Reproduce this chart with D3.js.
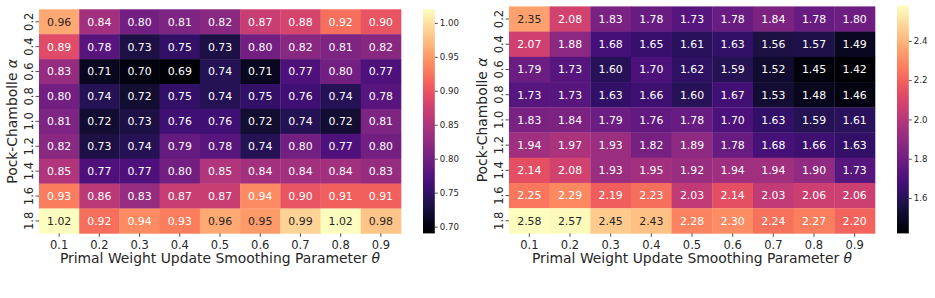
<!DOCTYPE html>
<html>
<head>
<meta charset="utf-8">
<script src="https://cdn.jsdelivr.net/npm/d3@7"></script>
<style>
    body { margin: 0; background: #fff; }
    svg { display: block; font-family: "DejaVu Sans", sans-serif; }
</style>
</head>
<body>
<svg id="chart"></svg>
<script>
//Globals
var width = 935;
var height = 298;

var thetaLabels = ["0.1","0.2","0.3","0.4","0.5","0.6","0.7","0.8","0.9"];
var alphaLabels = ["0.2","0.4","0.6","0.8","1.0","1.2","1.4","1.6","1.8"];

// left panel, rows = alpha, columns = theta
var leftValues = [
    [0.96,0.84,0.80,0.81,0.82,0.87,0.88,0.92,0.90],
    [0.89,0.78,0.73,0.75,0.73,0.80,0.82,0.81,0.82],
    [0.83,0.71,0.70,0.69,0.74,0.71,0.77,0.80,0.77],
    [0.80,0.74,0.72,0.75,0.74,0.75,0.76,0.74,0.78],
    [0.81,0.72,0.73,0.76,0.76,0.72,0.74,0.72,0.81],
    [0.82,0.73,0.74,0.79,0.78,0.74,0.80,0.77,0.80],
    [0.85,0.77,0.77,0.80,0.85,0.84,0.84,0.84,0.83],
    [0.93,0.86,0.83,0.87,0.87,0.94,0.90,0.91,0.91],
    [1.02,0.92,0.94,0.93,0.96,0.95,0.99,1.02,0.98]
];
var leftTicks = [0.70,0.75,0.80,0.85,0.90,0.95,1.00];

// right panel
var rightValues = [
    [2.35,2.08,1.83,1.78,1.73,1.78,1.84,1.78,1.80],
    [2.07,1.88,1.68,1.65,1.61,1.63,1.56,1.57,1.49],
    [1.79,1.73,1.60,1.70,1.62,1.59,1.52,1.45,1.42],
    [1.73,1.73,1.63,1.66,1.60,1.67,1.53,1.48,1.46],
    [1.83,1.84,1.79,1.76,1.78,1.70,1.63,1.59,1.61],
    [1.94,1.97,1.93,1.82,1.89,1.78,1.68,1.66,1.63],
    [2.14,2.08,1.93,1.95,1.92,1.94,1.94,1.90,1.73],
    [2.25,2.29,2.19,2.23,2.03,2.14,2.03,2.06,2.06],
    [2.58,2.57,2.45,2.43,2.28,2.30,2.24,2.27,2.20]
];
var rightTicks = [1.6,1.8,2.0,2.2,2.4];

var xTitle = ["Primal Weight Update Smoothing Parameter ", "\u03b8"];
var yTitle = ["Pock-Chambolle ", "\u03b1"];

var svgContainer = d3.select("#chart")
    .attr("width", width)
    .attr("height", height);

// seaborn style: dark text on light cells
function textColor(c) {
    var rgb = d3.rgb(c);
    var lin = [rgb.r, rgb.g, rgb.b].map(function (v) {
        v = v / 255;
        return v <= 0.03928 ? v / 12.92 : Math.pow((v + 0.055) / 1.055, 2.4);
    });
    var lum = 0.2126 * lin[0] + 0.7152 * lin[1] + 0.0722 * lin[2];
    return lum > 0.408 ? "#262626" : "#ffffff";
}

function AddTitle(sel, parts) {
    sel.append("tspan").text(parts[0]);
    sel.append("tspan").style("font-style", "italic").text(parts[1]);
}

function DrawHeatmap(id, values, ticks, tickFmt, box, bar) {

    var cells = [];
    values.forEach(function (row, i) {
        row.forEach(function (v, j) {
            cells.push({row: alphaLabels[i], col: thetaLabels[j], value: v});
        });
    });

    var vmin = d3.min(cells, function (d) { return d.value; });
    var vmax = d3.max(cells, function (d) { return d.value; });

    var x = d3.scaleBand().domain(thetaLabels).range([box.x0, box.x1]);
    var y = d3.scaleBand().domain(alphaLabels).range([box.y0, box.y1]);
    var color = d3.scaleSequential(d3.interpolateMagma).domain([vmin, vmax]);

    var g = svgContainer.append("g").attr("id", id);

    g.selectAll(".cell")
        .data(cells)
        .enter()
        .append("rect")
        .attr("class", "cell")
        .attr("x", function (d) { return x(d.col); })
        .attr("y", function (d) { return y(d.row); })
        .attr("width", x.bandwidth() + 0.3)
        .attr("height", y.bandwidth() + 0.3)
        .attr("fill", function (d) { return color(d.value); });

    g.selectAll(".annot")
        .data(cells)
        .enter()
        .append("text")
        .attr("class", "annot")
        .attr("x", function (d) { return x(d.col) + x.bandwidth() / 2; })
        .attr("y", function (d) { return y(d.row) + y.bandwidth() / 2; })
        .attr("dy", "0.36em")
        .attr("text-anchor", "middle")
        .style("font-size", "10.9px")
        .style("fill", function (d) { return textColor(color(d.value)); })
        .text(function (d) { return d.value.toFixed(2); });

    // x axis
    var xAxis = g.append("g")
        .attr("transform", "translate(0," + box.y1 + ")")
        .call(d3.axisBottom(x).tickSize(3.5).tickPadding(3.5));
    xAxis.select(".domain").remove();
    xAxis.selectAll("line").attr("stroke", "#262626").attr("stroke-width", 0.8);
    xAxis.selectAll("text")
        .style("font-size", "11.5px")
        .style("font-family", "DejaVu Sans")
        .attr("fill", "#262626");

    // y axis, labels turned up
    var yAxis = g.append("g")
        .attr("transform", "translate(" + box.x0 + ",0)")
        .call(d3.axisLeft(y).tickSize(3.5));
    yAxis.select(".domain").remove();
    yAxis.selectAll("line").attr("stroke", "#262626").attr("stroke-width", 0.8);
    yAxis.selectAll("text")
        .attr("x", 0)
        .attr("y", -6.5)
        .attr("dy", 0)
        .attr("transform", "rotate(-90)")
        .attr("text-anchor", "middle")
        .style("font-size", "11.5px")
        .style("font-family", "DejaVu Sans")
        .attr("fill", "#262626");

    g.append("text")
        .attr("x", (box.x0 + box.x1) / 2)
        .attr("y", box.y1 + 29.8)
        .attr("text-anchor", "middle")
        .style("font-size", "13.9px")
        .style("fill", "#262626")
        .call(AddTitle, xTitle);

    g.append("text")
        .attr("transform", "translate(" + box.yTitleX + "," + ((box.y0 + box.y1) / 2) + ") rotate(-90)")
        .attr("text-anchor", "middle")
        .style("font-size", "13.9px")
        .style("fill", "#262626")
        .call(AddTitle, yTitle);

    // colorbar
    var gradId = id + "Grad";
    var grad = svgContainer.append("defs")
        .append("linearGradient")
        .attr("id", gradId)
        .attr("x1", 0).attr("y1", 1)
        .attr("x2", 0).attr("y2", 0);
    grad.selectAll("stop")
        .data(d3.range(0, 1.0001, 0.02))
        .enter()
        .append("stop")
        .attr("offset", function (t) { return t; })
        .attr("stop-color", function (t) { return d3.interpolateMagma(t); });

    var cb = d3.scaleLinear().domain([vmin, vmax]).range([bar.y1, bar.y0]);

    g.append("rect")
        .attr("x", bar.x0)
        .attr("y", bar.y0)
        .attr("width", bar.w)
        .attr("height", bar.y1 - bar.y0)
        .attr("fill", "url(#" + gradId + ")");

    var cAxis = g.append("g")
        .attr("transform", "translate(" + (bar.x0 + bar.w) + ",0)")
        .call(d3.axisRight(cb).tickValues(ticks).tickFormat(d3.format(tickFmt)).tickSize(3).tickPadding(2));
    cAxis.select(".domain").remove();
    cAxis.selectAll("line").attr("stroke", "#262626").attr("stroke-width", 0.8);
    cAxis.selectAll("text")
        .style("font-size", "8.6px")
        .style("font-family", "DejaVu Sans")
        .attr("fill", "#262626");
}

DrawHeatmap("left", leftValues, leftTicks, ".2f",
    {x0: 39, x1: 401, y0: 9.3, y1: 233.4, yTitleX: 16.8},
    {x0: 423, w: 11.8, y0: 9.3, y1: 233.4});

DrawHeatmap("right", rightValues, rightTicks, ".1f",
    {x0: 509, x1: 875, y0: 6.4, y1: 233.4, yTitleX: 486.8},
    {x0: 897, w: 11.8, y0: 5.5, y1: 233.4});
</script>
</body>
</html>
